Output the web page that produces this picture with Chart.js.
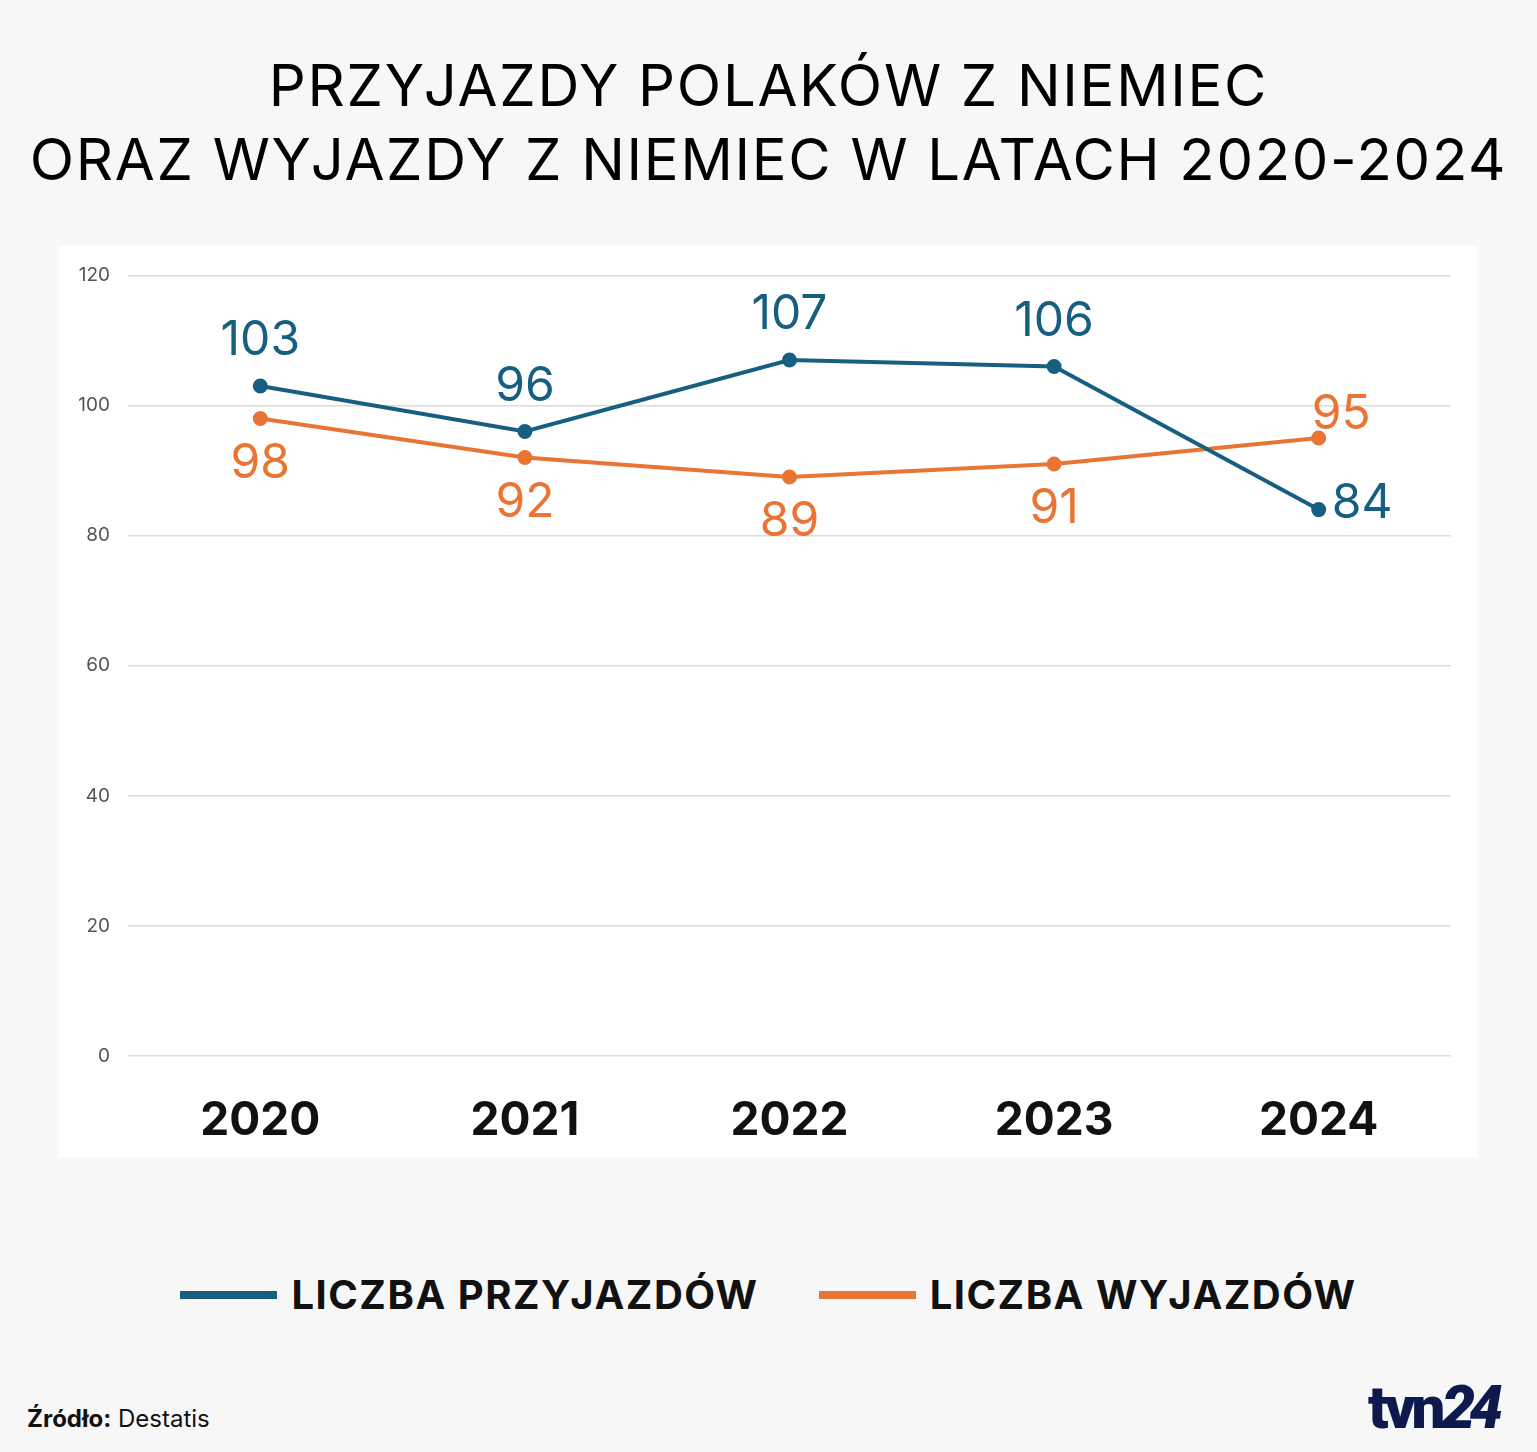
<!DOCTYPE html>
<html>
<head>
<meta charset="utf-8">
<script src="https://cdn.jsdelivr.net/npm/chart.js@4/dist/chart.umd.min.js"></script>
<style>
  html, body { margin: 0; padding: 0; }
  body { width: 1537px; height: 1452px; background: #f7f7f7; position: relative; font-family: Inter, "Noto Sans", sans-serif; overflow: hidden; }
  .title { position: absolute; left: 0; width: 1537px; top: 48px; text-align: center; font-size: 58px; line-height: 74px; color: #000; letter-spacing: 1.7px; }
  .panel { position: absolute; left: 58px; top: 246px; width: 1420px; height: 912px; background: #fff; }
  .legend { position: absolute; top: 1270px; left: 0; width: 1537px; display: flex; justify-content: center; align-items: center; font-weight: 700; font-size: 40px; color: #111; letter-spacing: 1.5px; }
  .legend .item { display: flex; align-items: center; margin: 0 30px; }
  .legend .swatch { width: 97px; height: 8px; margin-right: 14px; }
  .source { position: absolute; left: 27px; top: 1404px; font-size: 24px; color: #111; }
  .logo { position: absolute; left: 1368px; top: 1372px; font-size: 60px; font-weight: 900; color: #0e1a4e; letter-spacing: -4px; font-family: Roboto, Inter, sans-serif; }
  .logo i { letter-spacing: -6px; }
</style>
</head>
<body>
<div class="title">PRZYJAZDY POLAKÓW Z NIEMIEC<br>ORAZ WYJAZDY Z NIEMIEC W LATACH 2020-2024</div>
<div class="panel"><canvas id="chart" width="1420" height="912"></canvas></div>
<div class="legend">
  <div class="item"><span class="swatch" style="background:#175f80"></span>LICZBA PRZYJAZDÓW</div>
  <div class="item"><span class="swatch" style="background:#e97434"></span>LICZBA WYJAZDÓW</div>
</div>
<div class="source"><b>Źródło:</b> Destatis</div>
<div class="logo">tvn<i>24</i></div>
<script>
const years = ["2020", "2021", "2022", "2023", "2024"];
const arrivals = [103, 96, 107, 106, 84];
const departures = [98, 92, 89, 91, 95];
const yTicks = [0, 20, 40, 60, 80, 100, 120];

const blue = "#175f80";
const orange = "#e97434";

// point labels, placement per dataset (last point gets its own)
const pointLabels = {
    id: "pointLabels",
    afterDatasetsDraw(chart) {
        const ctx = chart.ctx;
        chart.data.datasets.forEach((ds, i) => {
            const meta = chart.getDatasetMeta(i);
            meta.data.forEach((pt, j) => {
                const place = (j === meta.data.length - 1 && ds.lastPlace) ? ds.lastPlace : ds.place;
                ctx.save();
                ctx.font = "48px Inter";
                ctx.fillStyle = ds.borderColor;
                ctx.textAlign = place.align;
                ctx.textBaseline = "middle";
                ctx.fillText(String(ds.data[j]), pt.x + place.dx, pt.y + place.dy);
                ctx.restore();
            });
        });
    }
};

new Chart(document.getElementById("chart"), {
    type: "line",
    data: {
        labels: years,
        datasets: [
            {
                label: "LICZBA PRZYJAZDÓW",
                data: arrivals,
                borderColor: blue,
                backgroundColor: blue,
                borderWidth: 4,
                pointRadius: 5.5,
                place: { dx: 0, dy: -45, align: "center" },
                lastPlace: { dx: 13, dy: -6, align: "left" },
            },
            {
                label: "LICZBA WYJAZDÓW",
                data: departures,
                borderColor: orange,
                backgroundColor: orange,
                borderWidth: 4,
                pointRadius: 5.5,
                place: { dx: 0, dy: 45, align: "center" },
                lastPlace: { dx: -7, dy: -23, align: "left" },
            },
        ],
    },
    options: {
        responsive: false,
        animation: false,
        layout: { autoPadding: false, padding: { top: 21, right: 27, left: 0, bottom: 0 } },
        plugins: {
            legend: { display: false },
            tooltip: { enabled: false },
        },
        scales: {
            x: {
                offset: true,
                grid: { display: false },
                border: { display: false },
                ticks: {
                    color: "#111",
                    font: { family: "Inter", size: 46, weight: "bold" },
                    padding: 30,
                },
                afterFit(axis) { axis.height = 102; },
            },
            y: {
                min: 0,
                max: 120,
                afterBuildTicks(axis) { axis.ticks = yTicks.map(v => ({ value: v })); },
                grid: { color: "#dcdcdc", lineWidth: 1.5, drawTicks: false },
                border: { display: false },
                ticks: {
                    color: "#555",
                    font: { family: "Inter", size: 19 },
                    padding: 18,
                },
                afterFit(axis) { axis.width = 70; },
            },
        },
    },
    plugins: [pointLabels],
});
</script>
</body>
</html>
